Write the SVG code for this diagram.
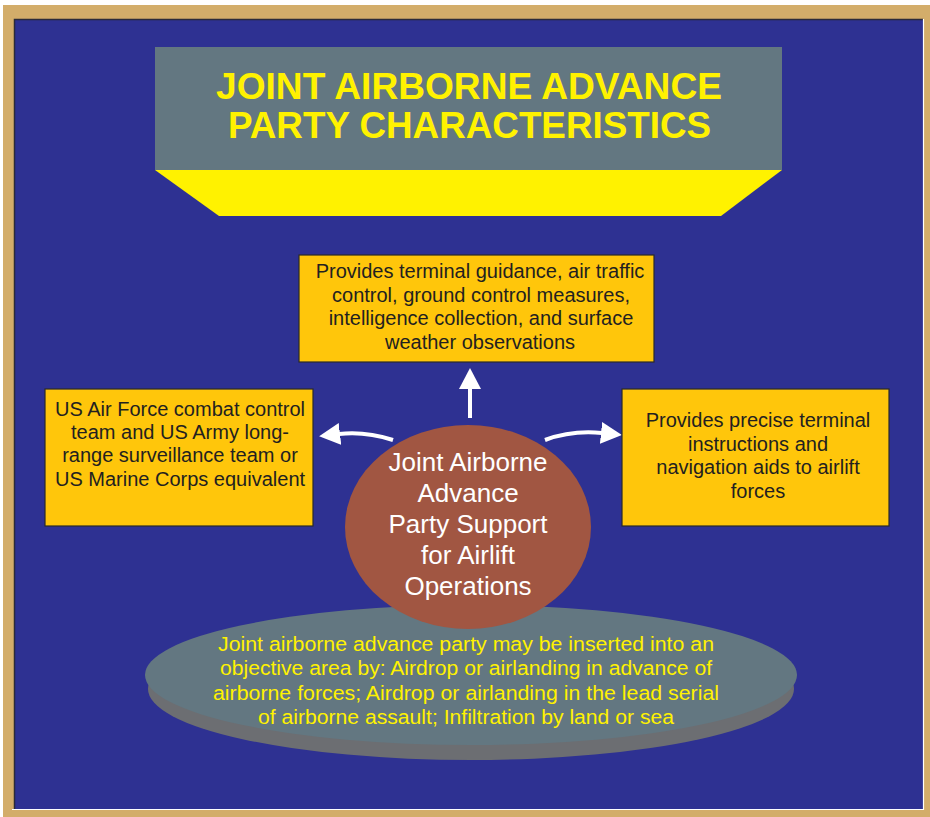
<svg xmlns="http://www.w3.org/2000/svg" width="930" height="817" viewBox="0 0 930 817">
<style>
.box{fill:#FFC60B;stroke:#2a2a2a;stroke-width:1.2}
.bt{font-family:"Liberation Sans",Arial,sans-serif;font-size:20px;fill:#231F20;text-anchor:middle}
.title{font-family:"Liberation Sans",Arial,sans-serif;font-size:37px;font-weight:bold;fill:#FFF200;text-anchor:middle}
.ct{font-family:"Liberation Sans",Arial,sans-serif;font-size:26px;fill:#FFFFFF;text-anchor:middle}
.et{font-family:"Liberation Sans",Arial,sans-serif;font-size:20px;fill:#FFF200;text-anchor:middle}
.conn{fill:none;stroke:#FFFFFF;stroke-width:4}
</style>
<defs>
<marker id="ah" markerUnits="userSpaceOnUse" markerWidth="22" markerHeight="24" refX="1" refY="11" orient="auto" viewBox="0 0 22 22">
<path d="M0,0 L21,11 L0,22 z" fill="#FFFFFF"/>
</marker>
</defs>
<g id="frame">
<rect x="0" y="0" width="930" height="817" fill="#FFFFFF"/>
<rect x="3" y="5" width="927" height="812" fill="#D3AD6A"/>
<rect x="14" y="19" width="909" height="790" fill="#2E3192"/>
<path d="M14.5,809 V19.5 H923" fill="none" stroke="#2b2b3a" stroke-width="1.5"/>
<path d="M12,809.5 H923.5 V19" fill="none" stroke="#FFFFFF" stroke-width="1.2"/>
</g>
<g id="title">
<polygon points="155,170 782,170 721,216 219,216" fill="#FFF200"/>
<rect x="155" y="47" width="627" height="123" fill="#637781"/>
<text class="title" x="469" y="99" textLength="506" lengthAdjust="spacingAndGlyphs">JOINT AIRBORNE ADVANCE</text>
<text class="title" x="469.5" y="138" textLength="483" lengthAdjust="spacingAndGlyphs">PARTY CHARACTERISTICS</text>
</g>
<g id="base">
<ellipse cx="471" cy="689" rx="323" ry="71" fill="#6C6E72"/>
<ellipse cx="471" cy="675" rx="326" ry="70" fill="#637781"/>
<text class="et" x="466" y="651" textLength="496" lengthAdjust="spacingAndGlyphs">Joint airborne advance party may be inserted into an</text>
<text class="et" x="466" y="675" textLength="492" lengthAdjust="spacingAndGlyphs">objective area by: Airdrop or airlanding in advance of</text>
<text class="et" x="466" y="700" textLength="506" lengthAdjust="spacingAndGlyphs">airborne forces; Airdrop or airlanding in the lead serial</text>
<text class="et" x="466" y="724" textLength="416" lengthAdjust="spacingAndGlyphs">of airborne assault; Infiltration by land or sea</text>
</g>
<g id="connectors">
<path class="conn" d="M470,418 V388" marker-end="url(#ah)"/>
<path class="conn" d="M393,440 Q365,431 339,434" marker-end="url(#ah)"/>
<path class="conn" d="M545,440 Q572,430 602,433" marker-end="url(#ah)"/>
</g>
<g id="top-box">
<rect class="box" x="299" y="255" width="355" height="107"/>
<text class="bt" x="480" y="278">Provides terminal guidance, air traffic</text>
<text class="bt" x="481" y="302">control, ground control measures,</text>
<text class="bt" x="481" y="325">intelligence collection, and surface</text>
<text class="bt" x="480" y="349">weather observations</text>
</g>
<g id="left-box">
<rect class="box" x="45" y="389" width="268" height="137"/>
<text class="bt" x="180" y="416">US Air Force combat control</text>
<text class="bt" x="180" y="439">team and US Army long-</text>
<text class="bt" x="180" y="462">range surveillance team or</text>
<text class="bt" x="180" y="486">US Marine Corps equivalent</text>
</g>
<g id="right-box">
<rect class="box" x="622" y="389" width="267" height="137"/>
<text class="bt" x="758" y="427">Provides precise terminal</text>
<text class="bt" x="758" y="451">instructions and</text>
<text class="bt" x="758" y="474">navigation aids to airlift</text>
<text class="bt" x="758" y="498">forces</text>
</g>
<g id="center">
<ellipse cx="468" cy="527" rx="123" ry="102" fill="#A15642"/>
<text class="ct" x="468" y="471">Joint Airborne</text>
<text class="ct" x="468" y="502">Advance</text>
<text class="ct" x="468" y="533">Party Support</text>
<text class="ct" x="468" y="564">for Airlift</text>
<text class="ct" x="468" y="595">Operations</text>
</g>
</svg>
